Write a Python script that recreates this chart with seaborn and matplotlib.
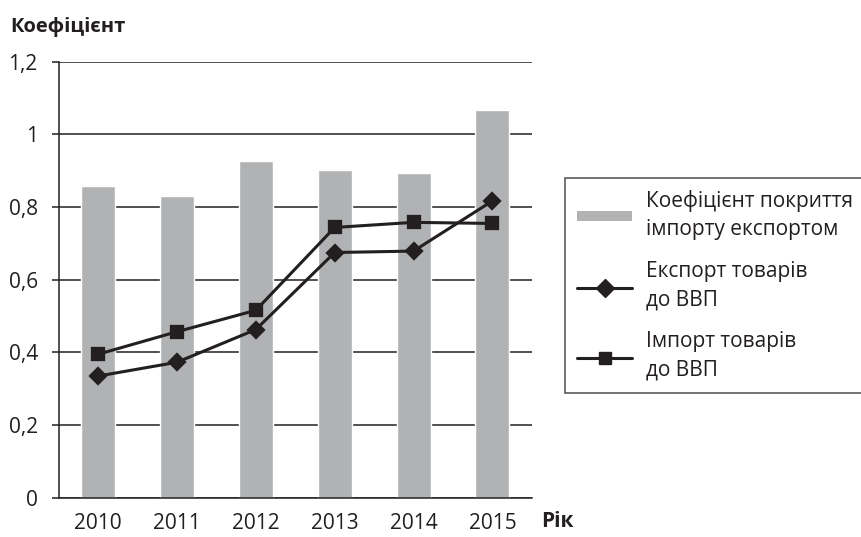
import seaborn as sns
import matplotlib.pyplot as plt
import pandas as pd
from matplotlib.lines import Line2D
from matplotlib.patches import Patch
from matplotlib.ticker import FixedLocator, FuncFormatter

years = ['2010', '2011', '2012', '2013', '2014', '2015']
coverage = [0.857, 0.831, 0.928, 0.903, 0.895, 1.068]
export_gdp = [0.335, 0.373, 0.463, 0.675, 0.679, 0.817]
import_gdp = [0.395, 0.457, 0.516, 0.744, 0.758, 0.755]

df = pd.DataFrame({'Рік': years, 'coverage': coverage,
                   'export': export_gdp, 'import': import_gdp})

sns.set_style('white')
plt.rcParams['font.family'] = ['Open Sans', 'DejaVu Sans']

bar_col = '#b1b2b4'
line_col = '#231f20'
fs = 15

fig = plt.figure(figsize=(8.62, 5.37), dpi=100)
ax = fig.add_axes([0.068, 0.073, 0.549, 0.812])

ax.yaxis.grid(True, color=line_col, linewidth=1.1)
ax.set_axisbelow(True)

sns.barplot(data=df, x='Рік', y='coverage', color=bar_col, width=0.43,
            saturation=1, ax=ax, zorder=2)
sns.pointplot(data=df, x='Рік', y='import', color=line_col, markers='s',
              markersize=8.5, linewidth=2.2, ax=ax, zorder=4)
sns.pointplot(data=df, x='Рік', y='export', color=line_col, markers='D',
              markersize=8.5, linewidth=2.2, ax=ax, zorder=4)

ax.set_xlim(-0.5, 5.5)
ax.set_ylim(0, 1.2)
ax.set_yticks([0, 0.2, 0.4, 0.6, 0.8, 1.0, 1.2])
ax.yaxis.set_major_formatter(FuncFormatter(lambda v, p: f'{v:g}'.replace('.', ',')))
ax.xaxis.set_minor_locator(FixedLocator([i - 0.5 for i in range(7)]))
ax.tick_params(axis='x', which='major', length=0, pad=11, labelsize=fs, colors=line_col)
ax.tick_params(axis='x', which='minor', length=8, width=1.1, color=line_col, direction='out')
ax.tick_params(axis='y', length=5, width=1.1, color=line_col, labelsize=fs,
               labelcolor=line_col, left=True, pad=10)
ax.set_xlabel('')
ax.set_ylabel('')
for s in ['top', 'right']:
    ax.spines[s].set_visible(False)
for s in ['left', 'bottom']:
    ax.spines[s].set_color(line_col)
    ax.spines[s].set_linewidth(1.1)

fig.text(0.012, 0.94, 'Коефіцієнт', fontsize=14.5, fontweight='bold', color=line_col)
# x-axis name sits on the same baseline as the year labels
xl = ax.get_xticklabels()[0]
fig.text(0.628, 0.018, 'Рік', fontsize=fs, fontweight='bold', color=line_col,
         va='baseline')

handles = [
    Patch(facecolor=bar_col, edgecolor='none'),
    Line2D([], [], color=line_col, marker='D', markersize=9, linewidth=2.2),
    Line2D([], [], color=line_col, marker='s', markersize=8, linewidth=2.2),
]
labels = ['Коефіцієнт покриття\nімпорту експортом',
          'Експорт товарів\nдо ВВП',
          'Імпорт товарів\nдо ВВП']
leg = fig.legend(handles, labels, loc='upper left', bbox_to_anchor=(0.655, 0.669),
                 fontsize=fs, frameon=True, fancybox=False, edgecolor=line_col,
                 handlelength=2.65, handleheight=0.35, labelspacing=1.0,
                 borderpad=0.6, handletextpad=0.65, borderaxespad=0)
leg.get_frame().set_linewidth(1.1)
for t in leg.get_texts():
    t.set_color(line_col)
    t.set_linespacing(1.45)

plt.savefig('out.png', dpi=100)
